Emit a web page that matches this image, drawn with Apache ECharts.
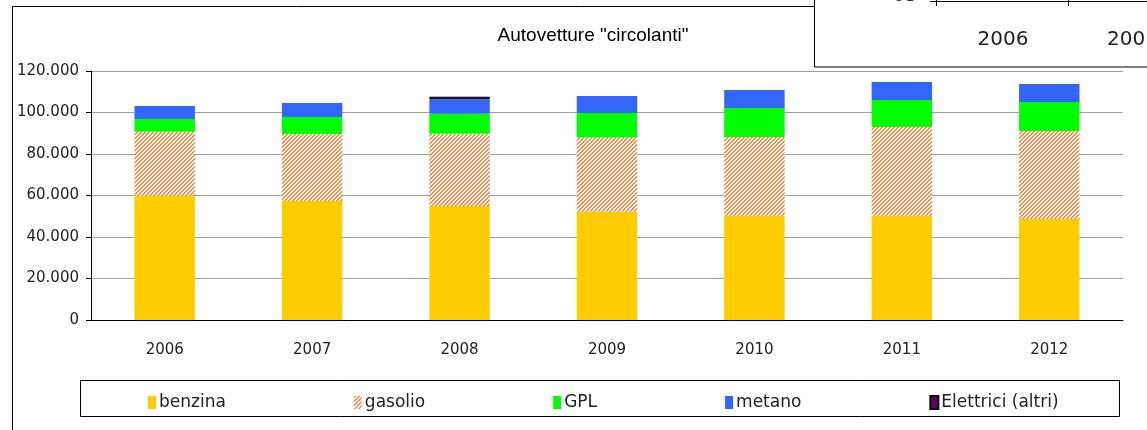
<!DOCTYPE html>
<html>
<head>
<meta charset="utf-8">
<style>
  html, body { margin: 0; padding: 0; background: #fff; }
  #chart { width: 1147px; height: 430px; }
</style>
<script src="https://cdn.jsdelivr.net/npm/echarts@6/dist/echarts.min.js"></script>
</head>
<body>
<div id="chart"></div>
<script>
const years = ['2006', '2007', '2008', '2009', '2010', '2011', '2012']
const benzina = [60000, 57300, 54900, 52200, 50300, 50300, 48700]
const gasolio = [30700, 32300, 34900, 35700, 37900, 42700, 42400]
const gpl = [6200, 8200, 9600, 11900, 14000, 13000, 14000]
const metano = [6200, 6800, 7000, 8100, 8600, 8700, 8600]
const elettrici = [null, null, 1200, null, null, null, null]

const font = '"DejaVu Sans", sans-serif'

// tratteggio arancio per il gasolio
function hatch() {
  const c = document.createElement('canvas')
  c.width = 4
  c.height = 4
  const ctx = c.getContext('2d')
  ctx.fillStyle = '#fff'
  ctx.fillRect(0, 0, 4, 4)
  ctx.fillStyle = '#ff8a45'
  for (let x = 0; x < 4; x++) {
    for (let y = 0; y < 4; y++) {
      if ((x + y) % 4 < 2) ctx.fillRect(x, y, 1, 1)
    }
  }
  return c
}

function fmt(v) {
  return String(v).replace(/\B(?=(\d{3})+(?!\d))/g, '.')
}

const chart = echarts.init(document.getElementById('chart'))
const pattern = { image: hatch(), repeat: 'repeat' }

function bar(name, data, style) {
  return {
    name: name,
    type: 'bar',
    stack: 'tot',
    barWidth: '41%',
    data: data,
    itemStyle: style,
    emphasis: { disabled: true }
  }
}

chart.setOption({
  animation: false,
  title: {
    text: 'Autovetture "circolanti"',
    left: 588,
    top: 21,
    textAlign: 'center',
    textStyle: { fontFamily: 'Liberation Sans, Arial', fontSize: 19, fontWeight: 'normal', color: '#000' }
  },
  grid: { left: 91, right: 24, top: 71, bottom: 110 },
  xAxis: {
    type: 'category',
    data: years,
    axisLine: { lineStyle: { color: '#000', width: 1 } },
    axisTick: { length: 5, lineStyle: { color: '#000' } },
    axisLabel: { color: '#222', fontFamily: font, fontSize: 15, margin: 23 }
  },
  yAxis: {
    type: 'value',
    min: 0,
    max: 120000,
    interval: 20000,
    axisLine: { show: true, lineStyle: { color: '#000' } },
    axisTick: { show: true, length: 5, lineStyle: { color: '#000' } },
    axisLabel: { color: '#222', fontFamily: font, fontSize: 15, margin: 12, formatter: fmt },
    splitLine: { lineStyle: { color: '#a0a0a0', width: 1 } }
  },
  legend: {
    left: 143,
    top: 389,
    itemGap: 128,
    itemWidth: 8,
    itemHeight: 13,
    icon: 'rect',
    textStyle: { fontFamily: font, fontSize: 17, color: '#222', padding: [0, 0, 0, -2] },
    data: ['benzina', 'gasolio', 'GPL', 'metano', 'Elettrici (altri)']
  },
  graphic: [
    { type: 'rect', shape: { x: 12.5, y: 6.5, width: 1200, height: 500 }, style: { fill: 'none', stroke: '#000', lineWidth: 1 }, silent: true, z: 0 },
    { type: 'rect', shape: { x: 80.5, y: 380.5, width: 1039, height: 36 }, style: { fill: 'none', stroke: '#000', lineWidth: 1 }, silent: true },
    // riquadro sovrapposto in alto a destra
    { type: 'rect', shape: { x: 814.5, y: -5, width: 400, height: 72 }, style: { fill: '#fff', stroke: '#000', lineWidth: 1 }, z: 100 },
    { type: 'line', shape: { x1: 930, y1: 1.5, x2: 1147, y2: 1.5 }, style: { stroke: '#000', lineWidth: 1 }, z: 101 },
    { type: 'line', shape: { x1: 936.5, y1: 0, x2: 936.5, y2: 6 }, style: { stroke: '#000', lineWidth: 1 }, z: 101 },
    { type: 'line', shape: { x1: 1068.5, y1: 0, x2: 1068.5, y2: 6 }, style: { stroke: '#000', lineWidth: 1 }, z: 101 },
    { type: 'text', x: 918, y: 6, style: { text: '05', fontFamily: font, fontSize: 20, fill: '#222', align: 'right', verticalAlign: 'bottom' }, z: 101 },
    { type: 'text', x: 1003, y: 40, style: { text: '2006', fontFamily: font, fontSize: 20, fill: '#222', align: 'center', verticalAlign: 'middle' }, z: 101 },
    { type: 'text', x: 1107, y: 40, style: { text: '200', fontFamily: font, fontSize: 20, fill: '#222', align: 'left', verticalAlign: 'middle' }, z: 101 }
  ],
  series: [
    bar('benzina', benzina, { color: '#ffcc00' }),
    bar('gasolio', gasolio, { color: pattern }),
    bar('GPL', gpl, { color: '#00ff00' }),
    bar('metano', metano, { color: '#3366ff' }),
    bar('Elettrici (altri)', elettrici, { color: '#660066', borderColor: '#000', borderWidth: 1 })
  ]
})
</script>
</body>
</html>
